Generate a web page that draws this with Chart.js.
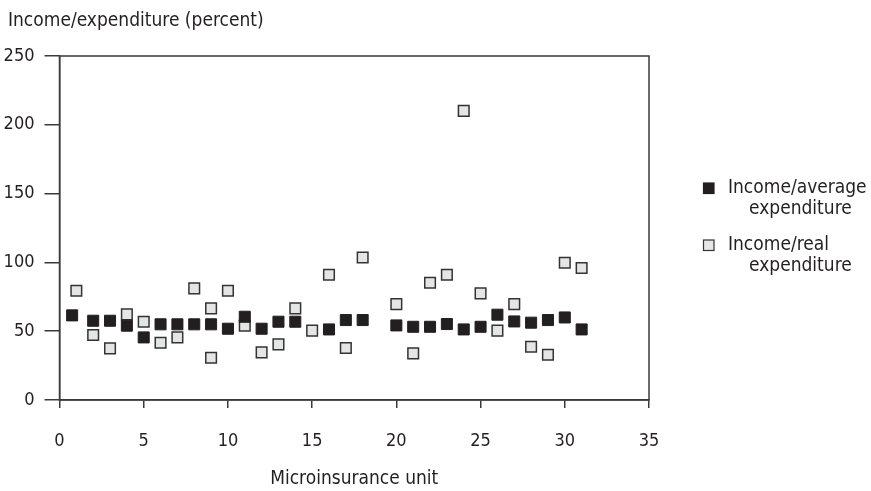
<!DOCTYPE html>
<html>
<head>
<meta charset="utf-8">
<script src="https://cdn.jsdelivr.net/npm/chart.js@4.4.1/dist/chart.umd.min.js"></script>
<style>
  html, body { margin: 0; padding: 0; background: #fff; }
  #wrap { width: 871px; height: 491px; position: relative; }
</style>
</head>
<body>
<div id="wrap"><canvas id="myChart" width="871" height="491"></canvas></div>
<script>
// Dados
const avgUnits = [0.75, 2, 3, 4, 5, 6, 7, 8, 9, 10, 11, 12, 13, 14, 16, 17, 18, 20, 21, 22, 23, 24, 25, 26, 27, 28, 29, 30, 31];
const avgValues = [61.5, 57.6, 57.6, 54, 45.5, 55, 55, 55, 55, 51.8, 60.5, 51.8, 56.9, 56.9, 51.3, 58.1, 58.1, 54.2, 53.2, 53.2, 55.2, 51.3, 53.2, 62, 57.1, 56.2, 58.1, 60, 51.3];
const realUnits = [1, 2, 3, 4, 5, 6, 7, 8, 9, 9, 10, 11, 12, 13, 14, 15, 16, 17, 18, 20, 21, 22, 23, 24, 25, 26, 27, 28, 29, 30, 31];
const realValues = [79.4, 47.2, 37.5, 62.2, 56.9, 41.6, 45.5, 81.1, 66.6, 30.7, 79.4, 54, 34.6, 40.4, 66.6, 50.4, 91, 37.8, 103.6, 69.7, 33.9, 85.2, 91, 210.1, 77.5, 50.4, 69.7, 38.7, 32.9, 99.7, 95.9];
const xTicks = [0, 5, 10, 15, 20, 25, 30, 35];
const yTicks = [0, 50, 100, 150, 200, 250];
const seriesNames = [['Income/average', 'expenditure'], ['Income/real', 'expenditure']];

const fontFamily = '"Liberation Sans Narrow", "DejaVu Sans Condensed", "Roboto", sans-serif';
const ink = '#231f20';
const lineColor = '#3a3a3a';
const lightFill = '#e4e5e6';

const toPoints = (xs, ys) => xs.map((x, i) => ({ x: x, y: ys[i] }));

// Caixa da área do gráfico + título do eixo y + legenda
const decorPlugin = {
    id: 'decor',
    beforeDatasetsDraw(chart) {
        const { ctx, chartArea } = chart;
        ctx.save();
        ctx.strokeStyle = lineColor;
        ctx.lineWidth = 1.5;
        ctx.strokeRect(chartArea.left, chartArea.top, chartArea.right - chartArea.left, chartArea.bottom - chartArea.top);
        ctx.restore();
    },
    afterDraw(chart) {
        const { ctx } = chart;
        ctx.save();
        ctx.fillStyle = ink;
        ctx.font = '19px ' + fontFamily;
        ctx.textBaseline = 'middle';
        ctx.textAlign = 'left';
        ctx.fillText('Income/expenditure (percent)', 8, 21);

        // Legenda
        const rows = [
            { y: 188.5, fill: ink, stroke: ink },
            { y: 245.5, fill: lightFill, stroke: '#333' }
        ];
        rows.forEach((r, i) => {
            ctx.fillStyle = r.fill;
            ctx.strokeStyle = r.stroke;
            ctx.lineWidth = 1.2;
            ctx.fillRect(703.5, r.y - 5.5, 10.5, 10.5);
            ctx.strokeRect(703.5, r.y - 5.5, 10.5, 10.5);
            ctx.fillStyle = ink;
            ctx.fillText(seriesNames[i][0], 728, r.y);
            ctx.fillText(seriesNames[i][1], 749, r.y + 21);
        });
        ctx.restore();
    }
};

new Chart(document.getElementById('myChart').getContext('2d'), {
    type: 'scatter',
    data: {
        datasets: [
            {
                label: seriesNames[1].join(' '),
                data: toPoints(realUnits, realValues),
                pointStyle: 'rect',
                pointRadius: 7.5,
                pointHoverRadius: 7.5,
                backgroundColor: lightFill,
                borderColor: '#333',
                borderWidth: 1.5,
                order: 2
            },
            {
                label: seriesNames[0].join(' '),
                data: toPoints(avgUnits, avgValues),
                pointStyle: 'rect',
                pointRadius: 7.8,
                pointHoverRadius: 7.8,
                backgroundColor: ink,
                borderColor: ink,
                borderWidth: 1,
                order: 1
            }
        ]
    },
    options: {
        responsive: false,
        animation: false,
        layout: { padding: { top: 56, right: 222, left: 0, bottom: 0 } },
        scales: {
            x: {
                type: 'linear',
                min: 0,
                max: 35,
                afterBuildTicks: axis => { axis.ticks = xTicks.map(v => ({ value: v })); },
                afterFit: axis => { axis.height = 91; },
                grid: { drawOnChartArea: false, drawTicks: true, tickLength: 8, color: lineColor, lineWidth: 1.5 },
                border: { color: lineColor, width: 1.5 },
                ticks: { color: ink, font: { family: fontFamily, size: 18 }, padding: 23, maxRotation: 0 },
                title: { display: true, text: 'Microinsurance unit', color: ink, font: { family: fontFamily, size: 19 }, padding: { top: 14, bottom: 1 } }
            },
            y: {
                min: 0,
                max: 250,
                afterBuildTicks: axis => { axis.ticks = yTicks.map(v => ({ value: v })); },
                afterFit: axis => { axis.width = 59.5; },
                grid: { drawOnChartArea: false, drawTicks: true, tickLength: 15, color: lineColor, lineWidth: 1.5 },
                border: { color: lineColor, width: 1.5 },
                ticks: { color: ink, font: { family: fontFamily, size: 18 }, padding: 10 }
            }
        },
        plugins: {
            legend: { display: false },
            tooltip: { enabled: false }
        }
    },
    plugins: [decorPlugin]
});
</script>
</body>
</html>
